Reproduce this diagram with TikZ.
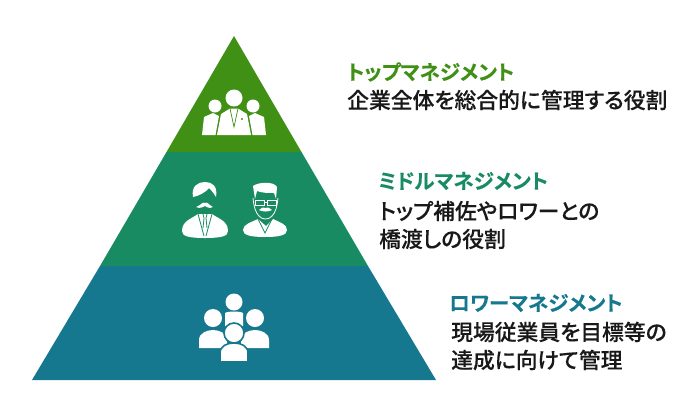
\documentclass[tikz,border=0pt]{standalone}
\usepackage{fontspec}
\usepackage{xcolor}
\usetikzlibrary{positioning}
\newfontfamily\cjkbold[RawFeature={+palt}, FakeBold=0.25]{Noto Sans CJK JP Bold}
\newfontfamily\cjkmed[RawFeature={+palt}, FakeBold=0.12]{Noto Sans CJK JP Medium}
\definecolor{topgreen}{RGB}{63,144,21}
\definecolor{midgreen}{RGB}{24,139,99}
\definecolor{lowblue}{RGB}{22,120,142}
\begin{document}
\begin{tikzpicture}[x=1pt, y=-1pt,
  head/.style={inner sep=0pt, anchor=west, font=\cjkbold\fontsize{20.5}{24}\selectfont},
  body/.style={inner sep=0pt, anchor=west, align=left, font=\cjkmed\fontsize{21.8}{28}\selectfont, text=black!90},
  icon/.style={fill=white, draw=none},
  ring/.style={fill=white, line width=1.6pt}
]
  \useasboundingbox (0,0) rectangle (700,416);

  % pyramid bands
  \fill[topgreen] (234,36) -- (301.5,152) -- (166.5,152) -- cycle;
  \fill[midgreen] (166.5,152) -- (301.5,152) -- (368,266) -- (100,266) -- cycle;
  \fill[lowblue] (100,266) -- (368,266) -- (436,380) -- (32,380) -- cycle;

  % top icon
  \fill[icon] (215,106) circle (6.5);
  \fill[icon] (253,106) circle (6.5);
  \fill[icon] (202,135) -- (204,117) -- (213,113) -- (219,116) -- (215.5,135) -- cycle;
  \fill[icon] (266,135) -- (264,117) -- (255,113) -- (249,116) -- (252.5,135) -- cycle;
  \fill[icon] (234,98) circle (8.5);
  \fill[icon] (217,135) -- (221,114) -- (230,108.5) -- (238,108.5) -- (247,114) -- (251,135) -- cycle;
  \draw[topgreen, line width=0.7pt] (230,108.5) -- (234,127) -- (238,108.5);
  \fill[topgreen] (242,119) circle (1.2);

  % middle left icon
  \fill[icon] (193,197) .. controls (191,186) and (198,182) .. (205,182) .. controls (212,182) and (218,186) .. (216,197) .. controls (213,192) and (211,190) .. (209,188) .. controls (206,192) and (199,196) .. (193,197) -- cycle;
  \fill[icon] (196,207) .. controls (200,206) and (203,201) .. (205,203) .. controls (207,201) and (210,206) .. (213,207) .. controls (209,209) and (207,207) .. (205,206) .. controls (203,207) and (200,209) .. (196,207) -- cycle;
  \fill[icon] (182,231) .. controls (182,221) and (191,219) .. (198,214) -- (205,214) -- (212,214) .. controls (219,219) and (228,221) .. (228,231) .. controls (228,236) and (222,238) .. (205,238) .. controls (188,238) and (182,236) .. (182,231) -- cycle;
  \draw[midgreen, line width=0.8pt] (198,214) -- (204,236) (212,214) -- (206,236);
  \draw[midgreen, line width=0.8pt] (203,214) -- (204,218) -- (203,228) (207,214) -- (206,218) -- (207,228);

  % middle right icon
  \fill[icon] (255,199) -- (253,186) .. controls (258,182) and (274,181) .. (277,187) -- (276,199) -- (274,193) .. controls (268,193) and (262,193) .. (257,191) -- cycle;
  \draw[white, line width=0.8pt] (253,198) .. controls (254,208) and (256,213) .. (259,216);
  \draw[white, line width=0.8pt] (278,198) .. controls (277,208) and (275,213) .. (272,216);
  \draw[white, line width=0.8pt] (259,216) .. controls (262,220) and (269,220) .. (272,216);
  \draw[white, line width=0.7pt] (255,200.5) rectangle (264,205) (267,200.5) rectangle (276,205) (264,202) -- (267,202);
  \fill[icon] (259,210) .. controls (262,208) and (264,206) .. (265.5,208) .. controls (267,206) and (269,208) .. (272,210) .. controls (269,212) and (262,212) .. (259,210) -- cycle;
  \fill[icon] (243,230) .. controls (243,224) and (252,222) .. (258,219) -- (266,226) -- (273,219) .. controls (279,222) and (287,224) .. (287,230) .. controls (287,235) and (280,237) .. (265,237) .. controls (250,237) and (243,235) .. (243,230) -- cycle;
  \draw[midgreen, line width=0.7pt] (258,219) -- (265,233) -- (272,219);

  % low icon
  \fill[icon] (234,302) circle (8.5);
  \fill[icon] (213,318) circle (9);
  \fill[icon] (255,318) circle (9);
  \fill[icon] (225,313) .. controls (228,311) and (240,311) .. (243,313) -- (243,326) -- (225,326) -- cycle;
  \fill[icon] (199,348) -- (199,340) .. controls (199,333) and (207,330) .. (213,330) .. controls (219,330) and (227,333) .. (227,340) -- (227,348) -- cycle;
  \fill[icon] (269,348) -- (269,340) .. controls (269,333) and (261,330) .. (255,330) .. controls (249,330) and (241,333) .. (241,340) -- (241,348) -- cycle;
  \filldraw[ring, draw=lowblue] (234,333) circle (10);
  \filldraw[ring, draw=lowblue] (220,362) -- (220,353) .. controls (220,346) and (227,343) .. (234,343) .. controls (241,343) and (248,346) .. (248,353) -- (248,362) -- cycle;
  \fill[lowblue] (217,362) rectangle (251,366);

  % labels
  \node[head, text=topgreen] (tophead) at (347,72) {トップマネジメント};
  \node[body] (topbody) at (347,100) {企業全体を総合的に管理する役割};
  \node[head, text=midgreen] (midhead) at (378,181) {ミドルマネジメント};
  \node[body] (midbody) at (379,225) {トップ補佐やロワーとの\\橋渡しの役割};
  \node[head, text=lowblue] (lowhead) at (449,303) {ロワーマネジメント};
  \node[body] (lowbody) at (451,346) {現場従業員を目標等の\\達成に向けて管理};
\end{tikzpicture}
\end{document}
